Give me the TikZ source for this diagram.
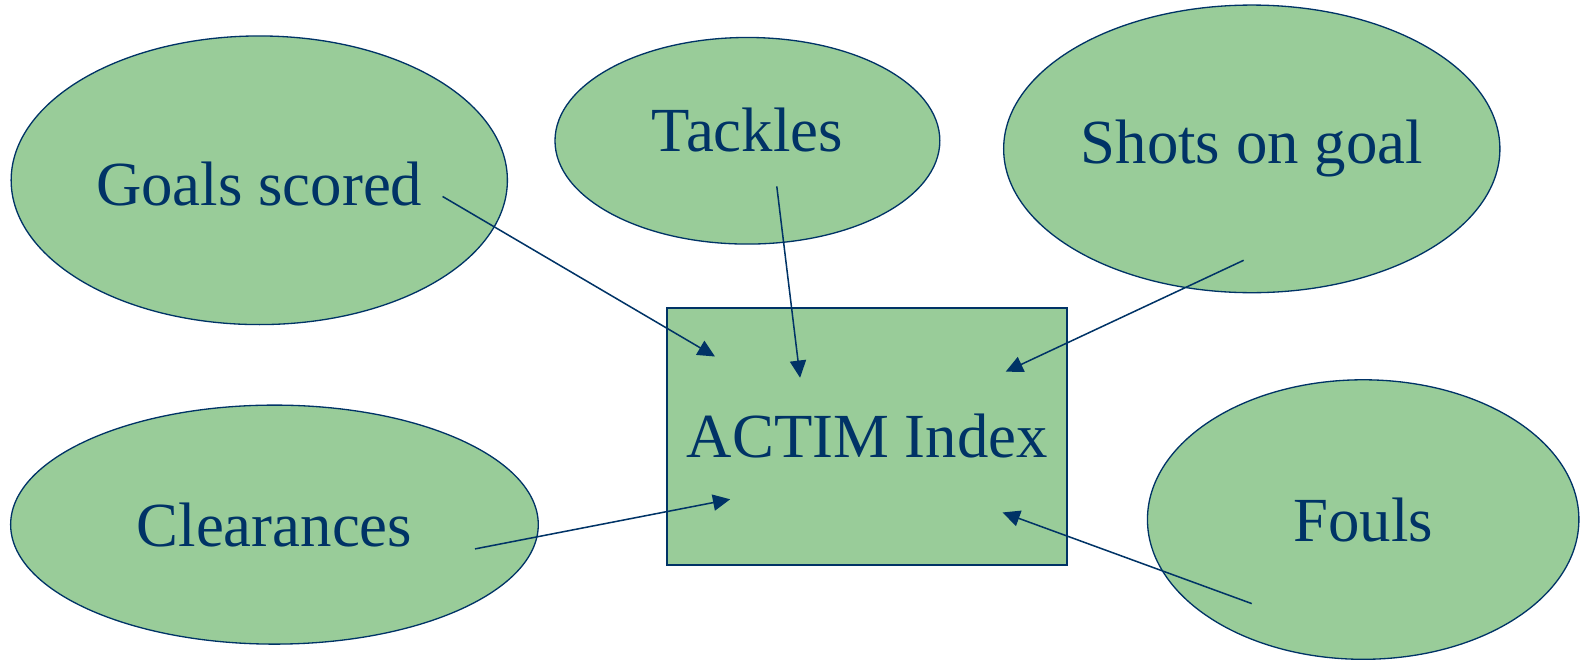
\documentclass[tikz,border=0pt]{standalone}
\usepackage{fontspec}
\setmainfont{Liberation Serif}
\usetikzlibrary{arrows.meta,shapes.geometric}

\definecolor{leaf}{HTML}{99CC99}
\definecolor{navy}{HTML}{003366}

\begin{document}
\begin{tikzpicture}[
    x=1pt, y=-1pt,
    blob/.style={ellipse, draw=navy, line width=1.3pt, fill=leaf, text=navy, inner sep=0pt,
      font=\fontsize{62}{70}\selectfont},
    index/.style={rectangle, draw=navy, line width=2pt, fill=leaf, text=navy,
      minimum width=395pt, minimum height=254pt, font=\fontsize{62}{70}\selectfont},
    arrow/.style={-{Triangle[length=17pt,width=16pt]}, draw=navy, line width=1.5pt}
  ]
    \useasboundingbox (0,0) rectangle (1568,653);

    \node[blob, minimum width=490pt, minimum height=285pt, text height=50pt] (goals) at (256,178) {Goals scored};
    \node[blob, minimum width=380pt, minimum height=204pt, text depth=22pt] (tackles) at (738,139) {Tackles};
    \node[blob, minimum width=490pt, minimum height=284pt] (shots) at (1236,147) {Shots on goal};
    \node[blob, minimum width=521pt, minimum height=236pt] (clear) at (271,518) {Clearances};
    \node[blob, minimum width=426pt, minimum height=276pt] (fouls) at (1346,513) {Fouls};
    \node[index] (actim) at (856.5,431) {ACTIM Index};

    % tails and tips of the arrows
    \coordinate (goals-out) at (437,194);
    \coordinate (tackles-out) at (767,184);
    \coordinate (shots-out) at (1228,257);
    \coordinate (clear-out) at (469,542);
    \coordinate (fouls-out) at (1236,596);
    \coordinate (actim-nw) at (706,352);
    \coordinate (actim-n) at (790,373);
    \coordinate (actim-ne) at (993,367);
    \coordinate (actim-sw) at (721,493);
    \coordinate (actim-se) at (990,506);

    \draw[arrow] (goals-out) -- (actim-nw);
    \draw[arrow] (tackles-out) -- (actim-n);
    \draw[arrow] (shots-out) -- (actim-ne);
    \draw[arrow] (clear-out) -- (actim-sw);
    \draw[arrow] (fouls-out) -- (actim-se);
  \end{tikzpicture}
\end{document}
